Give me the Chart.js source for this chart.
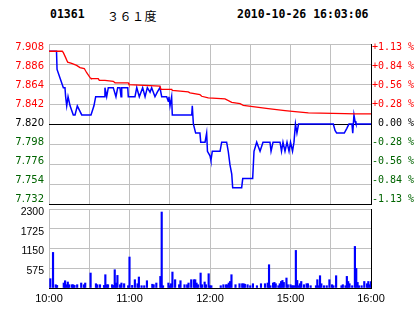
<!DOCTYPE html>
<html>
<head>
<meta charset="utf-8">
<script src="https://cdn.jsdelivr.net/npm/chart.js@4"></script>
<style>
  body { margin: 0; background: #fff; }
  #wrap { position: relative; width: 414px; height: 314px; }
  canvas { position: absolute; left: 0; top: 0; }
  .hd { position: absolute; top: 7px; line-height: 16px; color: #000; white-space: pre;
        font: bold 11.5px "DejaVu Sans Mono", monospace; }
  .name { font-family: "Noto Sans CJK SC"; font-weight: normal; font-size: 12px; letter-spacing: 0.5px; }
</style>
</head>
<body>
<div id="wrap">
  <div class="hd" style="left:50px">01361</div>
  <div class="hd name" style="left:107px">３６１度</div>
  <div class="hd" style="left:237px">2010-10-26 16:03:06</div>
  <canvas id="price" width="414" height="314"></canvas>
  <canvas id="volume" width="414" height="314"></canvas>
</div>
<script>
const prevClose = 7.82;
const priceTicks = [7.908, 7.886, 7.864, 7.842, 7.82, 7.798, 7.776, 7.754, 7.732];
const volumeTicks = [2300, 1725, 1150, 575, 0];
const gridMinutes = [0, 30, 60, 90, 120, 150, 180, 210, 240];
const timeLabelMinutes = [0, 60, 120, 180, 240];
const timeLabels = ["10:00", "11:00", "12:00", "15:00", "16:00"];

// [minute since 10:00 (lunch break removed), price]
const pricePoints = [
  [0, 7.9], [5.6, 7.9], [6, 7.88], [10.7, 7.86], [11.9, 7.86], [12.4, 7.85], [13.2, 7.84],
  [14.2, 7.85], [15.7, 7.84], [18.1, 7.83], [19.4, 7.83], [21.1, 7.84], [21.6, 7.84],
  [24.4, 7.83], [31.3, 7.83], [33.5, 7.84], [34.8, 7.85], [41.2, 7.85], [41.7, 7.86],
  [43, 7.85], [44.2, 7.86], [47.9, 7.86], [49.9, 7.85], [51.2, 7.86], [52.9, 7.86],
  [53.7, 7.85], [54.2, 7.86], [58.7, 7.86], [59.1, 7.85], [64.1, 7.85], [65.4, 7.86],
  [67.3, 7.85], [69.8, 7.86], [71.6, 7.85], [73.3, 7.86], [75.3, 7.855], [76.5, 7.86],
  [79, 7.85], [80.7, 7.855], [82.7, 7.86], [84, 7.85], [87.7, 7.85], [88.9, 7.845],
  [89.4, 7.85], [90.2, 7.84], [91.4, 7.85], [91.9, 7.83], [106.4, 7.83], [106.8, 7.84],
  [107.6, 7.82], [109.3, 7.81], [112.5, 7.81], [113.1, 7.8], [116.3, 7.8], [117.5, 7.81],
  [118.1, 7.79], [120, 7.785], [120.7, 7.78], [121.7, 7.79], [127.5, 7.79], [128.7, 7.8],
  [132.4, 7.8], [133.6, 7.79], [134.9, 7.775], [136.2, 7.765], [136.9, 7.75], [143.6, 7.75],
  [144.4, 7.76], [151.8, 7.76], [152.8, 7.79], [154.8, 7.8], [157.3, 7.79], [159.5, 7.8],
  [164.7, 7.8], [165.5, 7.79], [167, 7.8], [172.2, 7.8], [173.3, 7.79], [174.4, 7.8],
  [175.9, 7.79], [177.4, 7.8], [178.9, 7.79], [180, 7.8], [181.5, 7.79], [182.6, 7.8],
  [183.7, 7.82], [184.8, 7.81], [186, 7.82], [211.9, 7.82], [213.2, 7.813], [214.4, 7.81],
  [220.1, 7.81], [221.9, 7.815], [223.6, 7.82], [225.8, 7.82], [226.4, 7.81], [227.3, 7.83],
  [228.1, 7.823], [228.8, 7.82], [240, 7.82],
];

const averagePoints = [
  [0, 7.9], [9.9, 7.9], [10.7, 7.8985], [12.4, 7.893], [13.9, 7.888], [16.9, 7.8867],
  [20.6, 7.8845], [23.1, 7.882], [26.3, 7.881], [28.1, 7.8764], [30.6, 7.871], [31.3, 7.87],
  [36.7, 7.87], [37.5, 7.868], [41.7, 7.868], [47.9, 7.867], [49.2, 7.8653], [59.1, 7.8653],
  [59.6, 7.8634], [82.7, 7.8616], [83.5, 7.858], [91.5, 7.858], [91.9, 7.857], [103.8, 7.8554],
  [105.1, 7.8543], [112.5, 7.8524], [113.8, 7.8505], [118.7, 7.8487], [131.2, 7.8476],
  [136.2, 7.8439], [142.4, 7.8424], [144.8, 7.8406], [163.4, 7.8369], [175.9, 7.8347],
  [183.4, 7.8336], [193.3, 7.8322], [220.6, 7.8314], [228.1, 7.8311], [240, 7.8311],
];

// [minute, volume]
const volumePoints = [
  [1, 271], [3, 1036], [5, 96], [6, 76], [11, 145], [12, 212], [13, 96], [14, 175], [15, 96],
  [17, 96], [18, 96], [19, 76], [21, 96], [24, 145], [26, 96], [27, 145], [31, 436], [35, 125],
  [36, 96], [38, 96], [41, 76], [42, 387], [43, 96], [44, 96], [47, 96], [48, 76], [49, 532],
  [50, 145], [51, 367], [53, 96], [54, 145], [56, 125], [59, 67], [60, 902], [62, 76], [64, 242],
  [66, 125], [67, 320], [69, 67], [71, 67], [73, 212], [77, 110], [78, 96], [80, 145], [83, 338],
  [84, 2212], [85, 67], [89, 145], [90, 67], [91, 125], [92, 465], [94, 242], [97, 96], [98, 212],
  [101, 96], [103, 96], [104, 145], [106, 242], [108, 242], [109, 242], [110, 145], [111, 96],
  [113, 436], [114, 96], [116, 175], [117, 96], [119, 416], [120, 67], [121, 67], [128, 67],
  [130, 96], [132, 96], [133, 96], [134, 145], [135, 190], [136, 387], [139, 96], [142, 125],
  [144, 125], [145, 125], [146, 110], [148, 96], [150, 67], [152, 125], [155, 67], [158, 125],
  [161, 125], [163, 145], [164, 678], [165, 67], [167, 145], [168, 163], [169, 125], [171, 67],
  [172, 125], [173, 190], [174, 221], [175, 163], [177, 291], [178, 96], [180, 96], [181, 67],
  [182, 67], [183, 67], [184, 1094], [185, 221], [186, 67], [187, 125], [188, 190], [190, 96],
  [192, 125], [193, 125], [195, 67], [199, 67], [200, 242], [201, 67], [202, 358], [203, 125],
  [205, 67], [207, 67], [209, 242], [211, 96], [212, 67], [214, 358], [218, 67], [219, 96],
  [221, 67], [222, 338], [223, 190], [224, 125], [226, 67], [228, 1211], [229, 570], [230, 163],
  [231, 67], [233, 67], [235, 190], [237, 125], [238, 190], [239, 96], [240, 190],
];

const GRID = "#c0c0c0";
const same = (a, b) => Math.abs(a - b) < 1e-6;
const sideColor = (v) => (v > prevClose + 1e-6 ? "#ff0000" : v < prevClose - 1e-6 ? "#006400" : "#000000");
const percentLabel = (v) => {
  const p = ((v - prevClose) / prevClose) * 100;
  const sign = p > 1e-6 ? "+" : p < -1e-6 ? "-" : " ";
  return sign + Math.abs(p).toFixed(2) + " %";
};
const setTicks = (values) => (scale) => {
  scale.ticks = values.map((value) => ({ value }));
};
const toXY = (pts) => pts.map(([x, y]) => ({ x, y }));

// label axes span a little more than the grid so end labels sit inside the plot
const labelMin = 7.7265;
const labelMax = 7.9123;

new Chart(document.getElementById("price"), {
  type: "line",
  data: {
    datasets: [
      { data: toXY(averagePoints), borderColor: "#ff0000", borderWidth: 1.3, pointRadius: 0, tension: 0 },
      { data: toXY(pricePoints), borderColor: "#0000ff", borderWidth: 1.5, pointRadius: 0, tension: 0 },
    ],
  },
  options: {
    responsive: false,
    animation: false,
    devicePixelRatio: 1,
    layout: { padding: { top: 44, bottom: 110, left: 0, right: 0 } },
    plugins: { legend: { display: false }, tooltip: { enabled: false } },
    scales: {
      x: {
        type: "linear", min: 0, max: 240,
        afterBuildTicks: setTicks(gridMinutes),
        ticks: { display: false },
        grid: { color: (c) => (c.tick && c.tick.value === 240 ? "#000" : GRID), drawTicks: false },
        border: { display: true, color: "#000" },
        afterFit: (s) => { s.height = 0; },
      },
      y: {
        position: "left", min: 7.732, max: 7.908,
        afterBuildTicks: setTicks(priceTicks),
        ticks: { display: false },
        grid: {
          color: (c) => (c.tick && (same(c.tick.value, prevClose) || same(c.tick.value, 7.732)) ? "#000" : GRID),
          drawTicks: false,
        },
        border: { display: false },
        afterFit: (s) => { s.width = 0; },
      },
      yl: {
        position: "left", min: labelMin, max: labelMax,
        afterBuildTicks: setTicks(priceTicks),
        ticks: {
          callback: (v) => v.toFixed(3),
          color: (c) => sideColor(c.tick.value),
          font: { family: "DejaVu Sans", size: 10 },
          padding: 5,
        },
        grid: { display: false, drawTicks: false },
        border: { display: false },
        afterFit: (s) => { s.width = 49; },
      },
      yr: {
        position: "right", min: labelMin, max: labelMax,
        afterBuildTicks: setTicks(priceTicks),
        ticks: {
          callback: (v) => percentLabel(v),
          color: (c) => sideColor(c.tick.value),
          font: { family: "DejaVu Sans Mono", size: 10 },
          padding: 1,
        },
        grid: { display: false, drawTicks: false },
        border: { display: true, color: "#000" },
        afterFit: (s) => { s.width = 43; },
      },
    },
  },
});

new Chart(document.getElementById("volume"), {
  type: "bar",
  data: {
    datasets: [
      { data: toXY(volumePoints), backgroundColor: "#0000ff", barThickness: 1.5, grouped: false },
    ],
  },
  options: {
    responsive: false,
    animation: false,
    devicePixelRatio: 1,
    layout: { padding: { top: 209, bottom: 0, left: 0, right: 43 } },
    plugins: { legend: { display: false }, tooltip: { enabled: false } },
    scales: {
      x: {
        type: "linear", min: 0, max: 240, offset: false,
        afterBuildTicks: setTicks(gridMinutes),
        ticks: {
          autoSkip: false, maxRotation: 0,
          callback: (v) => {
            const i = timeLabelMinutes.indexOf(v);
            return i < 0 ? "" : timeLabels[i];
          },
          color: "#000",
          font: { family: "Liberation Sans", size: 11 },
          padding: 4,
        },
        grid: { offset: false, color: (c) => (c.tick && c.tick.value === 240 ? "#000" : GRID), drawTicks: false },
        border: { display: true, color: "#000" },
        afterFit: (s) => { s.height = 26; },
      },
      y: {
        min: 0, max: 2300,
        afterBuildTicks: setTicks(volumeTicks),
        ticks: {
          callback: (v) => (v === 0 ? "" : String(v)),
          color: "#000",
          font: { family: "Liberation Sans", size: 10.5 },
          padding: 5,
          labelOffset: 3,
        },
        grid: { color: (c) => (c.tick && c.tick.value === 0 ? "#000" : GRID), drawTicks: false },
        border: { display: false },
        afterFit: (s) => { s.width = 49; },
      },
    },
  },
});
</script>
</body>
</html>
